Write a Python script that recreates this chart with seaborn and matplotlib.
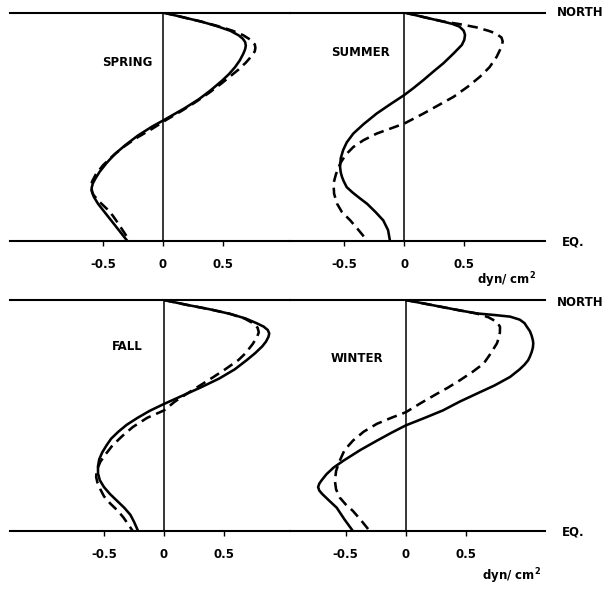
import matplotlib
matplotlib.use("Agg")
import matplotlib.pyplot as plt
import numpy as np
import pandas as pd
import seaborn as sns

# Latitude runs from the equator (0) to the northern edge (1);
# values are the stress profiles in dyn/cm^2.
spring_solid_lat = [1.00, 0.98, 0.96, 0.94, 0.92, 0.90, 0.885, 0.87, 0.855, 0.84, 0.82, 0.79,
                    0.76, 0.73, 0.70, 0.66, 0.62, 0.58, 0.55, 0.526, 0.50, 0.46, 0.42, 0.38,
                    0.34, 0.30, 0.27, 0.25, 0.23, 0.21, 0.19, 0.16, 0.12, 0.08, 0.04, 0.0]
spring_solid_val = [0.00, 0.16, 0.32, 0.45, 0.56, 0.63, 0.665, 0.685, 0.69, 0.685, 0.67, 0.64,
                    0.60, 0.55, 0.49, 0.40, 0.30, 0.18, 0.08, 0.00, -0.09, -0.21, -0.31, -0.40,
                    -0.47, -0.53, -0.565, -0.585, -0.595, -0.59, -0.575, -0.54, -0.48, -0.42,
                    -0.36, -0.30]
spring_dashed_lat = [1.00, 0.98, 0.96, 0.94, 0.92, 0.90, 0.88, 0.86, 0.845, 0.83, 0.81, 0.78,
                     0.75, 0.72, 0.69, 0.65, 0.61, 0.57, 0.53, 0.49, 0.45, 0.41, 0.37, 0.33,
                     0.29, 0.26, 0.24, 0.22, 0.20, 0.17, 0.14, 0.11, 0.08, 0.04, 0.0]
spring_dashed_val = [0.00, 0.16, 0.32, 0.46, 0.58, 0.67, 0.73, 0.765, 0.77, 0.765, 0.74, 0.69,
                     0.63, 0.56, 0.49, 0.39, 0.28, 0.16, 0.03, -0.09, -0.22, -0.33, -0.42, -0.50,
                     -0.56, -0.59, -0.60, -0.595, -0.58, -0.53, -0.47, -0.42, -0.38, -0.33, -0.28]

summer_solid_lat = [1.00, 0.98, 0.96, 0.95, 0.938, 0.92, 0.902, 0.88, 0.858, 0.82, 0.777, 0.74,
                    0.704, 0.67, 0.638, 0.60, 0.557, 0.51, 0.469, 0.43, 0.396, 0.36, 0.322,
                    0.30, 0.28, 0.26, 0.234, 0.21, 0.185, 0.161, 0.125, 0.088, 0.045, 0.0]
summer_solid_val = [0.00, 0.16, 0.325, 0.40, 0.46, 0.495, 0.506, 0.50, 0.48, 0.41, 0.325, 0.24,
                    0.16, 0.08, 0.00, -0.11, -0.23, -0.34, -0.425, -0.48, -0.51, -0.53, -0.535,
                    -0.53, -0.52, -0.505, -0.48, -0.43, -0.37, -0.31, -0.24, -0.175, -0.135,
                    -0.12]
summer_dashed_lat = [1.00, 0.98, 0.96, 0.95, 0.935, 0.92, 0.909, 0.89, 0.873, 0.85, 0.806, 0.76,
                     0.718, 0.675, 0.63, 0.595, 0.557, 0.513, 0.469, 0.44, 0.41, 0.375, 0.337,
                     0.29, 0.25, 0.205, 0.161, 0.125, 0.088, 0.045, 0.0]
summer_dashed_val = [0.00, 0.16, 0.33, 0.45, 0.60, 0.70, 0.76, 0.81, 0.82, 0.81, 0.77, 0.71,
                     0.63, 0.53, 0.41, 0.29, 0.16, 0.00, -0.23, -0.34, -0.425, -0.49, -0.535,
                     -0.57, -0.59, -0.585, -0.56, -0.52, -0.45, -0.38, -0.31]

fall_solid_lat = [1.00, 0.98, 0.96, 0.94, 0.92, 0.90, 0.885, 0.87, 0.855, 0.84, 0.82, 0.80,
                  0.77, 0.74, 0.70, 0.66, 0.62, 0.585, 0.55, 0.52, 0.49, 0.46, 0.43, 0.40,
                  0.37, 0.34, 0.31, 0.28, 0.25, 0.22, 0.19, 0.16, 0.13, 0.10, 0.07, 0.04, 0.0]
fall_solid_val = [0.00, 0.18, 0.38, 0.55, 0.68, 0.77, 0.83, 0.865, 0.877, 0.87, 0.85, 0.82,
                  0.76, 0.69, 0.59, 0.46, 0.30, 0.15, 0.00, -0.12, -0.22, -0.31, -0.38, -0.44,
                  -0.48, -0.515, -0.54, -0.55, -0.55, -0.535, -0.50, -0.45, -0.39, -0.33,
                  -0.28, -0.25, -0.216]
fall_dashed_lat = [1.00, 0.98, 0.96, 0.94, 0.92, 0.90, 0.88, 0.86, 0.84, 0.81, 0.77, 0.74,
                   0.70, 0.666, 0.63, 0.594, 0.56, 0.522, 0.49, 0.45, 0.41, 0.37, 0.33, 0.30,
                   0.27, 0.25, 0.233, 0.21, 0.18, 0.15, 0.12, 0.09, 0.06, 0.03, 0.0]
fall_dashed_val = [0.00, 0.18, 0.38, 0.55, 0.67, 0.74, 0.78, 0.79, 0.775, 0.74, 0.68, 0.62,
                   0.51, 0.41, 0.30, 0.19, 0.09, 0.00, -0.14, -0.26, -0.35, -0.43, -0.49, -0.53,
                   -0.555, -0.563, -0.565, -0.555, -0.53, -0.50, -0.45, -0.39, -0.34, -0.30,
                   -0.26]

winter_solid_lat = [1.00, 0.985, 0.97, 0.955, 0.942, 0.935, 0.928, 0.915, 0.90, 0.884, 0.865,
                    0.845, 0.825, 0.812, 0.795, 0.775, 0.755, 0.739, 0.72, 0.70, 0.667, 0.63,
                    0.594, 0.56, 0.522, 0.49, 0.457, 0.425, 0.391, 0.35, 0.304, 0.275, 0.246,
                    0.22, 0.205, 0.19, 0.175, 0.16, 0.13, 0.101, 0.05, 0.0]
winter_solid_val = [0.00, 0.15, 0.30, 0.45, 0.59, 0.74, 0.87, 0.95, 0.99, 1.01, 1.035,
                    1.05, 1.06, 1.063, 1.06, 1.05, 1.035, 1.02, 0.99, 0.95, 0.87, 0.74,
                    0.59, 0.45, 0.31, 0.16, 0.00, -0.12, -0.24, -0.38, -0.52, -0.60, -0.66,
                    -0.70, -0.72, -0.73, -0.72, -0.695, -0.635, -0.575, -0.51, -0.44]
winter_dashed_lat = [1.00, 0.985, 0.97, 0.955, 0.942, 0.925, 0.905, 0.884, 0.86, 0.835, 0.812,
                     0.77, 0.725, 0.69, 0.652, 0.62, 0.594, 0.555, 0.514, 0.49, 0.464, 0.43,
                     0.391, 0.35, 0.304, 0.26, 0.217, 0.18, 0.145, 0.115, 0.087, 0.045, 0.0]
winter_dashed_val = [0.00, 0.15, 0.30, 0.45, 0.59, 0.69, 0.76, 0.786, 0.785, 0.775, 0.76,
                     0.71, 0.65, 0.56, 0.45, 0.35, 0.26, 0.13, 0.00, -0.12, -0.24, -0.35,
                     -0.44, -0.51, -0.55, -0.58, -0.59, -0.58, -0.55, -0.50, -0.44, -0.37, -0.30]

seasons = ["SPRING", "SUMMER", "FALL", "WINTER"]
tick_values = [-0.5, 0, 0.5]
tick_labels = ["-0.5", "0", "0.5"]

series = {
    "SPRING": [(spring_solid_lat, spring_solid_val), (spring_dashed_lat, spring_dashed_val)],
    "SUMMER": [(summer_solid_lat, summer_solid_val), (summer_dashed_lat, summer_dashed_val)],
    "FALL": [(fall_solid_lat, fall_solid_val), (fall_dashed_lat, fall_dashed_val)],
    "WINTER": [(winter_solid_lat, winter_solid_val), (winter_dashed_lat, winter_dashed_val)],
}

rows = []
for season in seasons:
    for name, (lat, val) in zip(["profile_1", "profile_2"], series[season]):
        for i, (la, v) in enumerate(zip(lat, val)):
            rows.append({"season": season, "profile": name, "order": i,
                         "lat": la, "stress": v})
df = pd.DataFrame(rows)

sns.set_theme(style="white")
plt.rcParams["font.family"] = ["DejaVu Sans"]
plt.rcParams["text.color"] = "black"
plt.rcParams["xtick.color"] = "black"

W, H = 606, 589
fig = plt.figure(figsize=(W / 100, H / 100), dpi=100)


def box(x0, x1, ytop, ybot):
    return [x0 / W, 1 - ybot / H, (x1 - x0) / W, (ybot - ytop) / H]


def px(x, y):
    return x / W, 1 - y / H


PX_PER_UNIT = 120.0
# panel frames in pixels: (left, right, top, bottom, x of zero line)
frames = {
    "SPRING": (10.0, 290.0, 12.5, 240.5, 163.0),
    "SUMMER": (290.0, 545.0, 12.5, 240.5, 404.3),
    "FALL": (10.0, 290.0, 300.0, 531.0, 164.0),
    "WINTER": (290.0, 545.0, 300.0, 531.0, 405.7),
}

for season in seasons:
    x0, x1, ytop, ybot, xz = frames[season]
    ax = fig.add_axes(box(x0, x1, ytop, ybot))
    sub = df[df["season"] == season]
    sns.lineplot(data=sub, x="stress", y="lat", style="profile",
                 dashes={"profile_1": "", "profile_2": (4.0, 2.3)},
                 color="black", linewidth=1.85, estimator=None, sort=False,
                 orient="y", legend=False, ax=ax)
    for line in ax.get_lines():
        line.set_solid_joinstyle("round")
        line.set_dash_joinstyle("round")
    ax.axvline(0, color="black", lw=1.1)
    ax.set_xlim((x0 - xz) / PX_PER_UNIT, (x1 - xz) / PX_PER_UNIT)
    ax.set_ylim(0, 1)
    ax.set_xticks(tick_values)
    ax.set_xticklabels(tick_labels, fontsize=8.5, fontweight="bold")
    ax.set_yticks([])
    ax.set_xlabel("")
    ax.set_ylabel("")
    ax.tick_params(axis="x", direction="out", length=3.5, width=1.0, pad=9,
                   bottom=True, colors="black")
    for side in ("left", "right"):
        ax.spines[side].set_visible(False)
    for side in ("top", "bottom"):
        ax.spines[side].set_visible(True)
        ax.spines[side].set_color("black")
        ax.spines[side].set_linewidth(1.5)
    ax.patch.set_alpha(0)

# season names
label_pos = {"SPRING": (127, 63), "SUMMER": (360, 53), "FALL": (127, 347), "WINTER": (357, 359)}
for season, (x, y) in label_pos.items():
    fig.text(*px(x, y), season, ha="center", va="center", fontsize=8.5, fontweight="bold")

# edge labels and units
for y in (13, 302):
    fig.text(*px(557, y), "NORTH", ha="left", va="center", fontsize=8.5, fontweight="bold")
for y in (242, 532):
    fig.text(*px(562, y), "EQ.", ha="left", va="center", fontsize=8.5, fontweight="bold")
for (x, y) in ((507, 280), (512, 576)):
    fig.text(*px(x, y), "dyn/ cm$^{\\mathbf{2}}$", ha="center", va="center",
             fontsize=8.5, fontweight="bold")

fig.savefig("out.png", dpi=100, facecolor="white")
